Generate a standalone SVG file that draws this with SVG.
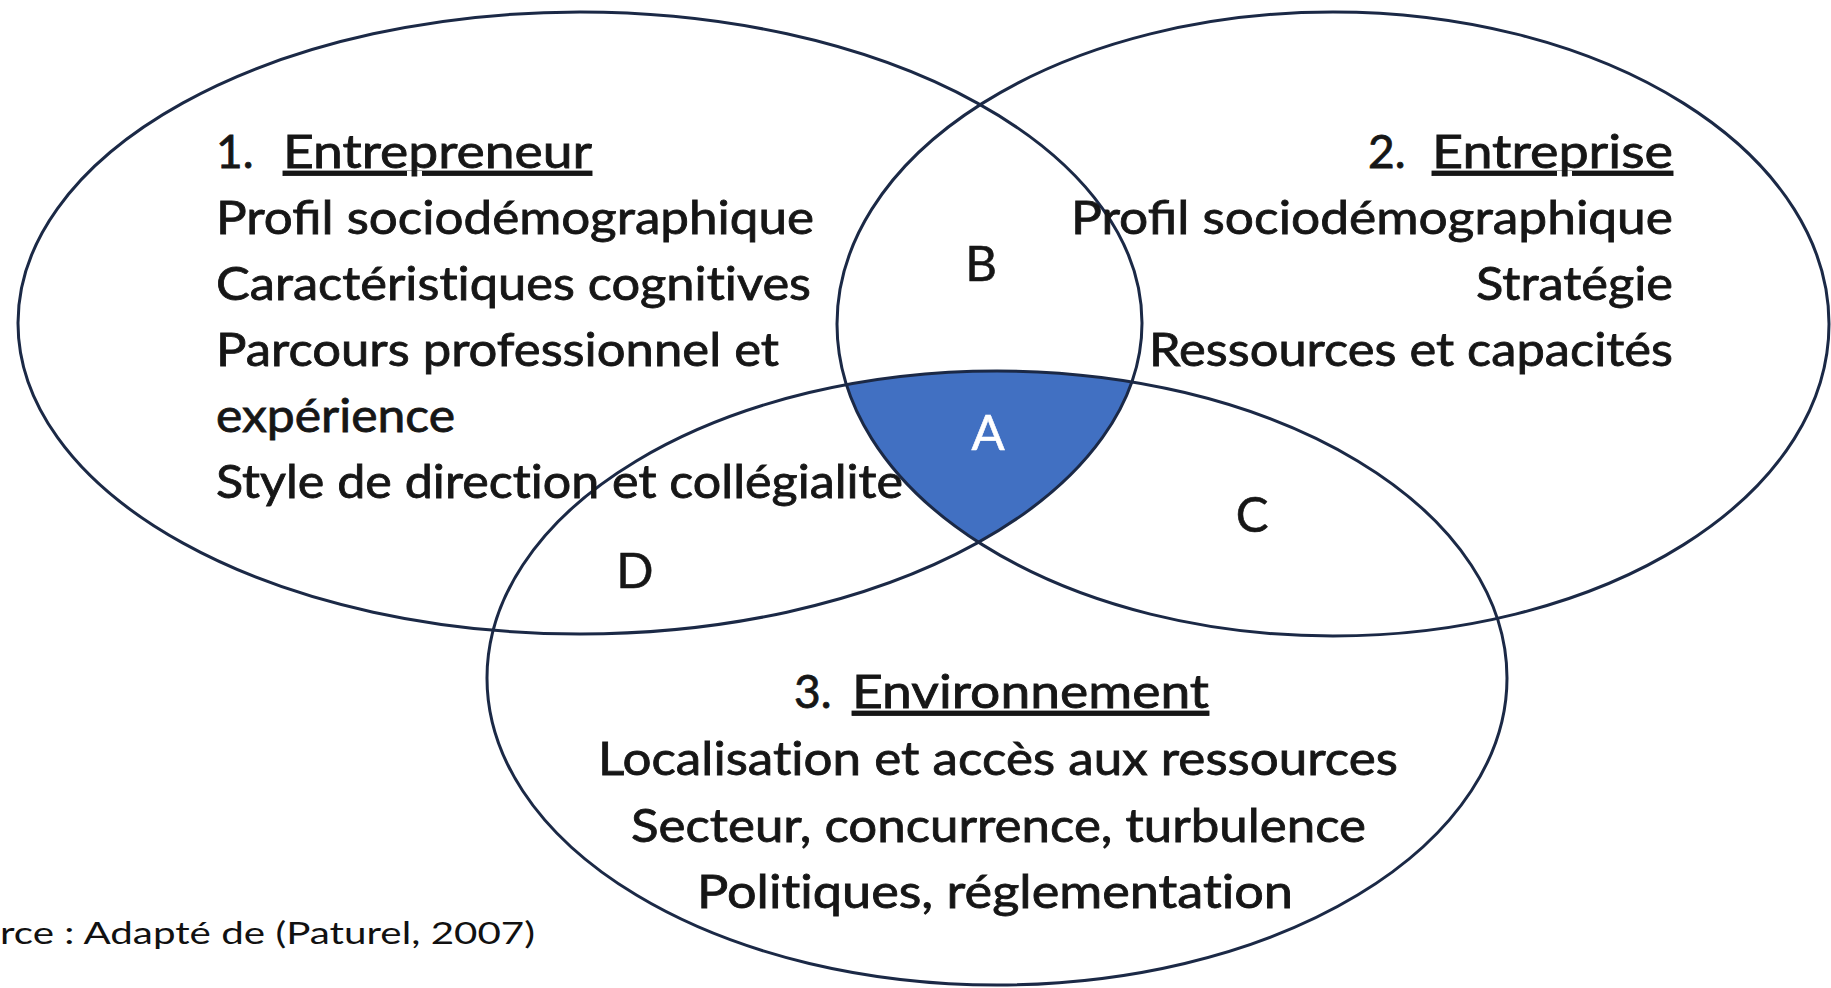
<svg xmlns="http://www.w3.org/2000/svg" width="1831" height="988" viewBox="0 0 1831 988">
  <style>
    .ring { fill: none; stroke: #1b2946; stroke-width: 3; }
    .txt { font-family: Lato, "Open Sans", "Liberation Sans", sans-serif; font-size: 46px; fill: #161616; stroke: #161616; stroke-width: 0.8; font-variant-ligatures: none; }
    .lig { font-variant-ligatures: common-ligatures; }
    .zone { font-family: Lato, "Open Sans", "Liberation Sans", sans-serif; font-size: 49px; fill: #161616; stroke: #161616; stroke-width: 0.6; text-anchor: middle; }
    .ul { text-decoration: underline; }
    .note { font-family: Lato, "Open Sans", "Liberation Sans", sans-serif; font-size: 31px; fill: #111111; }
  </style>
  <defs>
    <clipPath id="clip-e1"><ellipse cx="580" cy="323" rx="562" ry="311"/></clipPath>
    <clipPath id="clip-e2"><ellipse cx="1333" cy="324" rx="496" ry="312"/></clipPath>
  </defs>
  <rect width="1831" height="988" fill="#ffffff"/>

  <!-- common zone A: intersection of the three sets -->
  <g id="zone-a-fill" clip-path="url(#clip-e1)">
    <ellipse cx="997" cy="678" rx="510" ry="307" fill="#4170c2" clip-path="url(#clip-e2)"/>
  </g>

  <!-- set outlines -->
  <g id="connectors">
    <ellipse id="ring-entrepreneur" class="ring" cx="580" cy="323" rx="562" ry="311"/>
    <ellipse id="ring-entreprise" class="ring" cx="1333" cy="324" rx="496" ry="312"/>
    <ellipse id="ring-environnement" class="ring" cx="997" cy="678" rx="510" ry="307"/>
  </g>

  <g id="node-entrepreneur" class="txt">
    <text x="216" y="168">1.</text>
    <text x="283" y="168" class="ul" textLength="309" lengthAdjust="spacingAndGlyphs">Entrepreneur</text>
    <text x="216" y="234" class="lig" textLength="598" lengthAdjust="spacingAndGlyphs">Profil sociodémographique</text>
    <text x="216" y="300" textLength="595" lengthAdjust="spacingAndGlyphs">Caractéristiques cognitives</text>
    <text x="216" y="366" textLength="563" lengthAdjust="spacingAndGlyphs">Parcours professionnel et</text>
    <text x="216" y="432" textLength="239" lengthAdjust="spacingAndGlyphs">expérience</text>
    <text x="216" y="498" textLength="687" lengthAdjust="spacingAndGlyphs">Style de direction et collégialite</text>
  </g>

  <g id="node-entreprise" class="txt">
    <text x="1368" y="168">2.</text>
    <text x="1432" y="168" class="ul" textLength="241" lengthAdjust="spacingAndGlyphs">Entreprise</text>
    <text x="1071" y="234" class="lig" textLength="602" lengthAdjust="spacingAndGlyphs">Profil sociodémographique</text>
    <text x="1476" y="300" textLength="197" lengthAdjust="spacingAndGlyphs">Stratégie</text>
    <text x="1149" y="366" textLength="524" lengthAdjust="spacingAndGlyphs">Ressources et capacités</text>
  </g>

  <g id="node-environnement" class="txt">
    <text x="794" y="708">3.</text>
    <text x="852" y="708" class="ul" textLength="357" lengthAdjust="spacingAndGlyphs">Environnement</text>
    <text x="598" y="775" textLength="800" lengthAdjust="spacingAndGlyphs">Localisation et accès aux ressources</text>
    <text x="631" y="842" textLength="735" lengthAdjust="spacingAndGlyphs">Secteur, concurrence, turbulence</text>
    <text x="697" y="908" textLength="596" lengthAdjust="spacingAndGlyphs">Politiques, réglementation</text>
  </g>

  <g id="zone-labels">
    <text id="zone-a" class="zone" x="988" y="450" style="fill:#ffffff;stroke:#ffffff">A</text>
    <text id="zone-b" class="zone" x="981" y="281">B</text>
    <text id="zone-c" class="zone" x="1252" y="532">C</text>
    <text id="zone-d" class="zone" x="635" y="588">D</text>
  </g>

  <g id="source-note">
    <text class="note" x="0" y="944" textLength="535" lengthAdjust="spacingAndGlyphs">rce : Adapté de (Paturel, 2007)</text>
  </g>
</svg>
